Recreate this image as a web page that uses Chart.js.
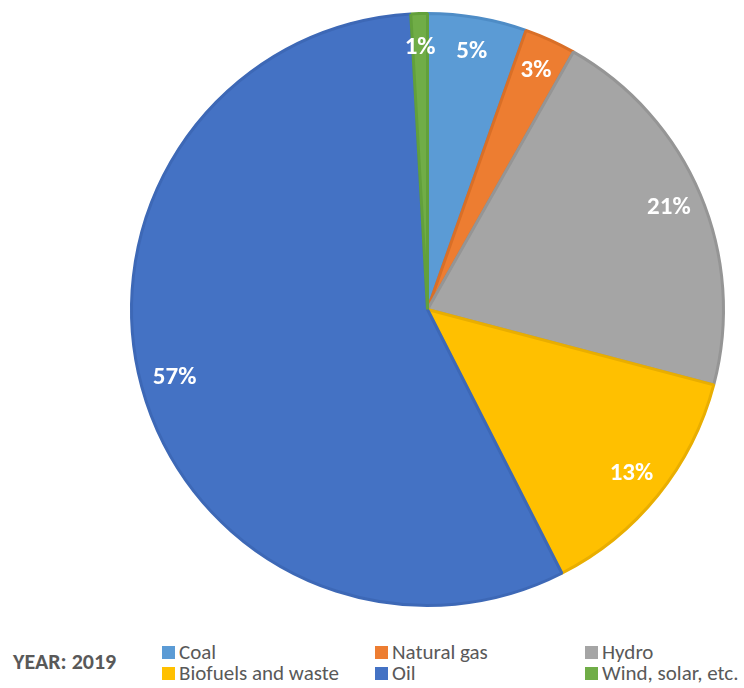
<!DOCTYPE html>
<html>
<head>
<meta charset="utf-8">
<script src="https://cdn.jsdelivr.net/npm/chart.js@4.4.1/dist/chart.umd.min.js"></script>
<style>
  html, body { margin: 0; padding: 0; background: #ffffff; }
  body { width: 744px; height: 688px; position: relative; overflow: hidden; font-family: Carlito, Lato, "Open Sans", sans-serif; }
  #wrap { position: absolute; left: 0; top: 0; width: 744px; height: 620px; }
  #year { position: absolute; left: 13px; top: 651px; font-weight: bold; font-size: 22px; color: #595959; line-height: 22px; }
  .item { position: absolute; font-size: 21px; color: #595959; line-height: 22px; white-space: nowrap; }
  .sw { position: absolute; width: 13px; height: 13px; }
</style>
</head>
<body>
<div id="wrap"><canvas id="c" width="744" height="620"></canvas></div>
<div id="year"></div>
<div id="legend"></div>
<script>
// ---- data ----
const categories = ["Coal", "Natural gas", "Hydro", "Biofuels and waste", "Oil", "Wind, solar, etc."];
const shares = [5.4, 2.8, 20.9, 13.4, 56.6, 0.9];
const fillColors = ["#5B9BD5", "#ED7D31", "#A5A5A5", "#FFC000", "#4472C4", "#70AD47"];
const borderColors = ["#4E8CC6", "#D96F27", "#959595", "#E9AE00", "#3D68B6", "#62A03B"];
const yearLabel = "YEAR: 2019";
// legend layout order (row-major, 3 columns)
const legendOrder = ["Coal", "Natural gas", "Hydro", "Biofuels and waste", "Oil", "Wind, solar, etc."];

const total = shares.reduce((a, b) => a + b, 0);

const pctLabels = {
  id: 'pctLabels',
  afterDatasetsDraw(chart) {
    const ctx = chart.ctx;
    const meta = chart.getDatasetMeta(0);
    ctx.save();
    ctx.fillStyle = '#ffffff';
    ctx.font = 'bold 25px Carlito, Lato, "Open Sans", sans-serif';
    ctx.textAlign = 'center';
    ctx.textBaseline = 'middle';
    meta.data.forEach((arc, i) => {
      const p = arc.getProps(['x', 'y', 'startAngle', 'endAngle', 'outerRadius']);
      const mid = (p.startAngle + p.endAngle) / 2;
      const r = p.outerRadius * 0.885;
      const x = p.x + Math.cos(mid) * r;
      const y = p.y + Math.sin(mid) * r;
      const pct = Math.round(shares[i] / total * 100) + '%';
      ctx.fillText(pct, x, y);
    });
    ctx.restore();
  }
};

new Chart(document.getElementById('c'), {
  type: 'pie',
  data: {
    labels: categories,
    datasets: [{
      data: shares,
      backgroundColor: fillColors,
      borderColor: borderColors,
      borderWidth: 3
    }]
  },
  options: {
    responsive: false,
    animation: false,
    layout: { padding: { left: 130, right: 19, top: 12, bottom: 13 } },
    plugins: {
      legend: { display: false },
      tooltip: { enabled: false }
    }
  },
  plugins: [pctLabels]
});

document.getElementById('year').textContent = yearLabel;
const colX = [162, 375, 585];
const rowY = [641, 662];
const leg = document.getElementById('legend');
legendOrder.forEach((name, k) => {
  const i = categories.indexOf(name);
  const col = k % 3, row = Math.floor(k / 3);
  const sw = document.createElement('div');
  sw.className = 'sw';
  sw.style.left = colX[col] + 'px';
  sw.style.top = (rowY[row] + 5) + 'px';
  sw.style.background = fillColors[i];
  leg.appendChild(sw);
  const t = document.createElement('div');
  t.className = 'item';
  t.style.left = (colX[col] + 17) + 'px';
  t.style.top = rowY[row] + 'px';
  t.textContent = name;
  leg.appendChild(t);
});
</script>
</body>
</html>
